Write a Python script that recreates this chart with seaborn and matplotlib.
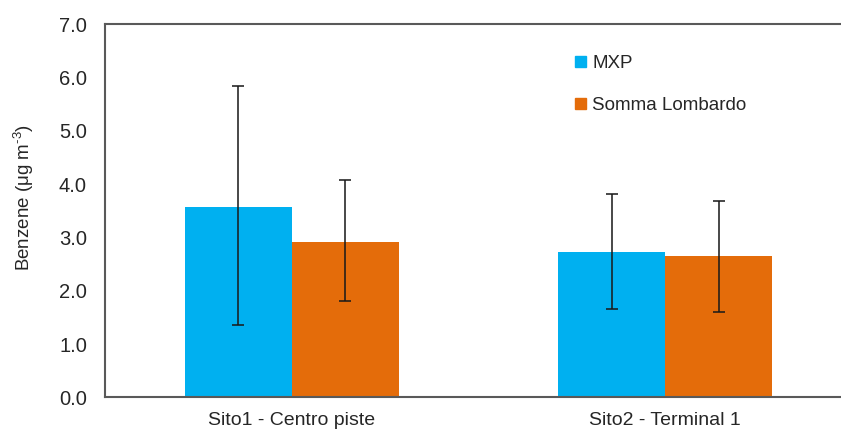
import matplotlib
matplotlib.use("Agg")
import matplotlib.pyplot as plt
import seaborn as sns
import pandas as pd
import numpy as np

# ---- data ----
sites = ["Sito1 - Centro piste", "Sito2 - Terminal 1"]
series = ["MXP", "Somma Lombardo"]
mxp_mean = [3.58, 2.73]
somma_mean = [2.92, 2.66]
mxp_low = [1.35, 1.66]
mxp_high = [5.85, 3.81]
somma_low = [1.81, 1.60]
somma_high = [4.07, 3.69]
y_ticks = [0.0, 1.0, 2.0, 3.0, 4.0, 5.0, 6.0, 7.0]

colors = ["#00B0F0", "#E46C0A"]

df = pd.DataFrame({
    "site": sites * 2,
    "series": [series[0]] * 2 + [series[1]] * 2,
    "value": mxp_mean + somma_mean,
    "low": mxp_low + somma_low,
    "high": mxp_high + somma_high,
})

sns.set_style("white")
plt.rcParams["font.family"] = ["Liberation Sans", "DejaVu Sans"]
plt.rcParams["mathtext.fontset"] = "custom"
plt.rcParams["mathtext.rm"] = "Liberation Sans"
plt.rcParams["mathtext.it"] = "Liberation Sans:italic"
plt.rcParams["mathtext.default"] = "regular"

fig = plt.figure(figsize=(8.41, 4.30), dpi=100)
ax = fig.add_axes([0.1249, 0.076, 0.888, 0.8675])

sns.barplot(data=df, x="site", y="value", hue="series", order=sites,
            hue_order=series, palette=colors, width=0.572, errorbar=None,
            saturation=1, ax=ax, legend=False, linewidth=0)

# error bars at bar centres taken from the drawn patches
for p in list(ax.patches):
    cx = p.get_x() + p.get_width() / 2
    h = p.get_height()
    row = df[np.isclose(df["value"], h)].iloc[0]
    ax.errorbar(cx, h, yerr=[[h - row["low"]], [row["high"] - h]],
                fmt="none", ecolor="#1a1a1a", elinewidth=1.4, capsize=4.5,
                capthick=1.4, alpha=0.8, zorder=5)

ax.set_ylim(0, 7)
ax.set_xlim(-0.5, 1.5)
ax.set_yticks(y_ticks)
ax.set_yticklabels([f"{v:.1f}" for v in y_ticks])

# category boundary ticks, labels at centres
ax.set_xticks([-0.5, 0.5, 1.5])
ax.set_xticklabels([])
ax.set_xticks([0, 1], minor=True)
ax.set_xticklabels(sites, minor=True)
ax.tick_params(axis="x", which="minor", length=0, pad=10.5, labelsize=14,
               labelcolor="#262626")
ax.tick_params(axis="x", which="major", length=6, width=1.3, color="#595959",
               direction="out")
ax.tick_params(axis="y", length=7, width=1.3, color="#595959", direction="out",
               labelsize=14.5, labelcolor="#262626", pad=6)

for side in ["left", "bottom", "top"]:
    ax.spines[side].set_visible(True)
    ax.spines[side].set_color("#595959")
    ax.spines[side].set_linewidth(1.5)
ax.spines["right"].set_visible(False)

ax.set_xlabel("")
ax.set_ylabel("Benzene (\u03bcg m$^{\u2010 3}$)", fontsize=13.5, color="#262626",
              labelpad=20)
ax.yaxis.set_label_coords(-0.092, 0.536)

handles = [plt.Rectangle((0, 0), 1, 1, color=c) for c in colors]
fig.legend(handles, series, loc="upper left", bbox_to_anchor=(0.684, 0.871),
           frameon=False, fontsize=13.5, handlelength=0.55, handleheight=0.55,
           handletextpad=0.35, labelspacing=1.3, borderpad=0,
           borderaxespad=0, labelcolor="#262626")

fig.savefig("out.png", dpi=100)
